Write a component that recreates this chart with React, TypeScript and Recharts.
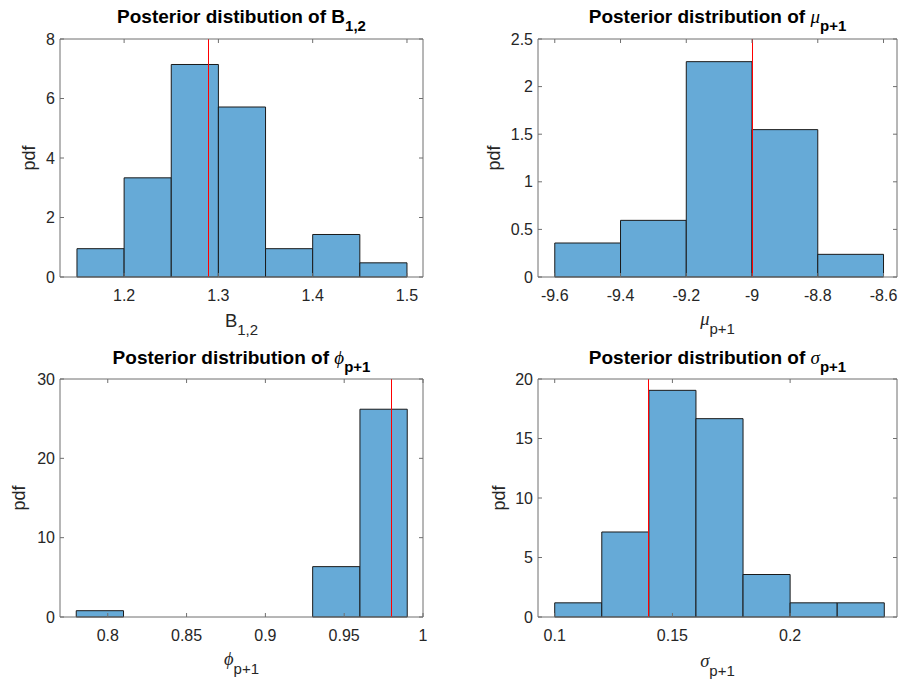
import React from 'react';
import { ComposedChart, XAxis, YAxis, ReferenceArea, ReferenceLine, Line } from 'recharts';

// ---- data ----
const b12Edges = [1.15, 1.2, 1.25, 1.3, 1.35, 1.4, 1.45, 1.5];
const b12Pdf = [0.952, 3.333, 7.143, 5.714, 0.952, 1.429, 0.476];
const b12True = 1.29;
const b12XTicks = [1.2, 1.3, 1.4, 1.5];
const b12YTicks = [0, 2, 4, 6, 8];

const muEdges = [-9.6, -9.4, -9.2, -9.0, -8.8, -8.6];
const muPdf = [0.357, 0.595, 2.262, 1.548, 0.238];
const muTrue = -9.0;
const muXTicks = [-9.6, -9.4, -9.2, -9, -8.8, -8.6];
const muYTicks = [0, 0.5, 1, 1.5, 2, 2.5];

const phiEdges = [0.78, 0.81, 0.84, 0.87, 0.9, 0.93, 0.96, 0.99];
const phiPdf = [0.794, 0, 0, 0, 0, 6.349, 26.19];
const phiTrue = 0.98;
const phiXTicks = [0.8, 0.85, 0.9, 0.95, 1];
const phiYTicks = [0, 10, 20, 30];

const sigmaEdges = [0.1, 0.12, 0.14, 0.16, 0.18, 0.2, 0.22, 0.24];
const sigmaPdf = [1.19, 7.143, 19.048, 16.667, 3.571, 1.19, 1.19];
const sigmaTrue = 0.14;
const sigmaXTicks = [0.1, 0.15, 0.2];
const sigmaYTicks = [0, 5, 10, 15, 20];

// ---- style ----
const FONT = '"Liberation Sans", Arial, Helvetica, sans-serif';
const GREEK = '"Liberation Serif", "DejaVu Serif", serif';
const AXIS = '#6f6f6f';
const TXT = '#262626';
const BAR = '#66AAD7';
const EDGE = '#1a1a1a';

const YW = 40; // left axis width
const XH = 30; // bottom axis height
const TH = 2; // top axis height
const RW = 2; // right axis width

type Box = { left: number; top: number; right: number; bottom: number };
type PanelProps = {
  left: number; top: number; width: number; height: number;
  plot: Box;
  edges: number[]; pdf: number[]; trueVal: number;
  xDomain: [number, number]; yDomain: [number, number];
  xTicks: number[]; yTicks: number[];
};

function Panel(p: PanelProps) {
  const bins = p.pdf.map((v, i) => ({
    lo: p.edges[i], hi: p.edges[i + 1], mid: (p.edges[i] + p.edges[i + 1]) / 2, pdf: v,
  }));
  const margin = {
    top: p.plot.top - TH,
    left: p.plot.left - YW,
    right: p.plot.right - RW,
    bottom: p.plot.bottom - XH,
  };
  const tickStyle = { fill: TXT, fontSize: 16, fontFamily: FONT };
  const blank = () => '';
  return (
    <div style={{ position: 'absolute', left: p.left, top: p.top }}>
      <ComposedChart width={p.width} height={p.height} data={bins} margin={margin}>
        <XAxis xAxisId="b" type="number" dataKey="mid" domain={p.xDomain} allowDataOverflow ticks={p.xTicks}
          interval={0} orientation="bottom" height={XH} tickSize={-4} tickMargin={17} stroke={AXIS} tick={tickStyle} />
        <XAxis xAxisId="t" type="number" dataKey="mid" domain={p.xDomain} allowDataOverflow ticks={p.xTicks}
          interval={0} orientation="top" height={TH} tickSize={-4} tickFormatter={blank} stroke={AXIS} />
        <YAxis yAxisId="l" type="number" domain={p.yDomain} allowDataOverflow ticks={p.yTicks}
          interval={0} orientation="left" width={YW} tickSize={-4} tickMargin={9} stroke={AXIS} tick={tickStyle} />
        <YAxis yAxisId="r" type="number" domain={p.yDomain} allowDataOverflow ticks={p.yTicks}
          interval={0} orientation="right" width={RW} tickSize={-4} tickFormatter={blank} stroke={AXIS} />
        {bins.filter((b) => b.pdf > 0).map((b, i) => (
          <ReferenceArea key={i} xAxisId="b" yAxisId="l" x1={b.lo} x2={b.hi} y1={0} y2={b.pdf}
            fill={BAR} fillOpacity={1} stroke={EDGE} strokeWidth={1} ifOverflow="visible" />
        ))}
        <ReferenceLine xAxisId="b" yAxisId="l" x={p.trueVal} stroke="#ff0000" strokeOpacity={1}
          strokeWidth={1} shapeRendering="crispEdges" ifOverflow="visible" />
        <Line xAxisId="b" yAxisId="l" dataKey="pdf" stroke="none" dot={false} activeDot={false}
          isAnimationActive={false} legendType="none" />
      </ComposedChart>
    </div>
  );
}

function Title({ x, y, children }: { x: number; y: number; children: React.ReactNode }) {
  return (
    <text x={x} y={y} textAnchor="middle" fontFamily={FONT} fontSize={19} fontWeight="bold" fill="#000">
      {children}
    </text>
  );
}

function YLab({ x, y }: { x: number; y: number }) {
  return (
    <text x={x} y={y} transform={`rotate(-90 ${x} ${y})`} textAnchor="middle" dy="0.35em"
      fontFamily={FONT} fontSize={18} fill={TXT}>pdf</text>
  );
}

function Greek({ ch }: { ch: string }) {
  return <tspan fontFamily={GREEK} fontStyle="italic" fontWeight="normal">{ch}</tspan>;
}

export default function App() {
  const pTop = { top: 39, left: 60, right: 27, bottom: 63 };
  const pTopR = { top: 39, left: 88, right: 4, bottom: 63 };
  const pBot = { top: 39, left: 60, right: 27, bottom: 66 };
  const pBotR = { top: 39, left: 88, right: 4, bottom: 66 };
  return (
    <div style={{ position: 'absolute', left: 0, top: 0, width: 901, height: 683, background: '#fff', overflow: 'hidden' }}>
      <Panel left={0} top={0} width={450} height={340} plot={pTop} edges={b12Edges} pdf={b12Pdf}
        trueVal={b12True} xDomain={[1.132, 1.517]} yDomain={[0, 8]} xTicks={b12XTicks} yTicks={b12YTicks} />
      <Panel left={450} top={0} width={451} height={340} plot={pTopR} edges={muEdges} pdf={muPdf}
        trueVal={muTrue} xDomain={[-9.651, -8.559]} yDomain={[0, 2.5]} xTicks={muXTicks} yTicks={muYTicks} />
      <Panel left={0} top={340} width={450} height={343} plot={pBot} edges={phiEdges} pdf={phiPdf}
        trueVal={phiTrue} xDomain={[0.7697, 1.0]} yDomain={[0, 30]} xTicks={phiXTicks} yTicks={phiYTicks} />
      <Panel left={450} top={340} width={451} height={343} plot={pBotR} edges={sigmaEdges} pdf={sigmaPdf}
        trueVal={sigmaTrue} xDomain={[0.0929, 0.2454]} yDomain={[0, 20]} xTicks={sigmaXTicks} yTicks={sigmaYTicks} />
      <svg width={901} height={683} style={{ position: 'absolute', left: 0, top: 0, pointerEvents: 'none' }}>
        <Title x={241.5} y={22.5}>Posterior distibution of B<tspan dy={8} fontSize={15}>1,2</tspan></Title>
        <Title x={717.5} y={22.5}>Posterior distribution of <Greek ch="μ" /><tspan dy={8} fontSize={15}>p+1</tspan></Title>
        <Title x={241.5} y={364}>Posterior distribution of <Greek ch="ϕ" /><tspan dy={8} fontSize={15}>p+1</tspan></Title>
        <Title x={717.5} y={364}>Posterior distribution of <Greek ch="σ" /><tspan dy={8} fontSize={15}>p+1</tspan></Title>

        <YLab x={29} y={158} />
        <YLab x={493.5} y={158} />
        <YLab x={18.5} y={498} />
        <YLab x={499} y={498} />

        <text x={241.5} y={327} textAnchor="middle" fontFamily={FONT} fontSize={18.5} fill={TXT}>
          B<tspan dy={8} fontSize={15}>1,2</tspan>
        </text>
        <text x={717.5} y={325} textAnchor="middle" fontFamily={FONT} fontSize={18.5} fill={TXT}>
          <Greek ch="μ" /><tspan dy={9} fontSize={15}>p+1</tspan>
        </text>
        <text x={241.5} y={665} textAnchor="middle" fontFamily={FONT} fontSize={18.5} fill={TXT}>
          <Greek ch="ϕ" /><tspan dy={9} fontSize={15}>p+1</tspan>
        </text>
        <text x={717.5} y={667} textAnchor="middle" fontFamily={FONT} fontSize={18.5} fill={TXT}>
          <Greek ch="σ" /><tspan dy={9} fontSize={15}>p+1</tspan>
        </text>
      </svg>
    </div>
  );
}
